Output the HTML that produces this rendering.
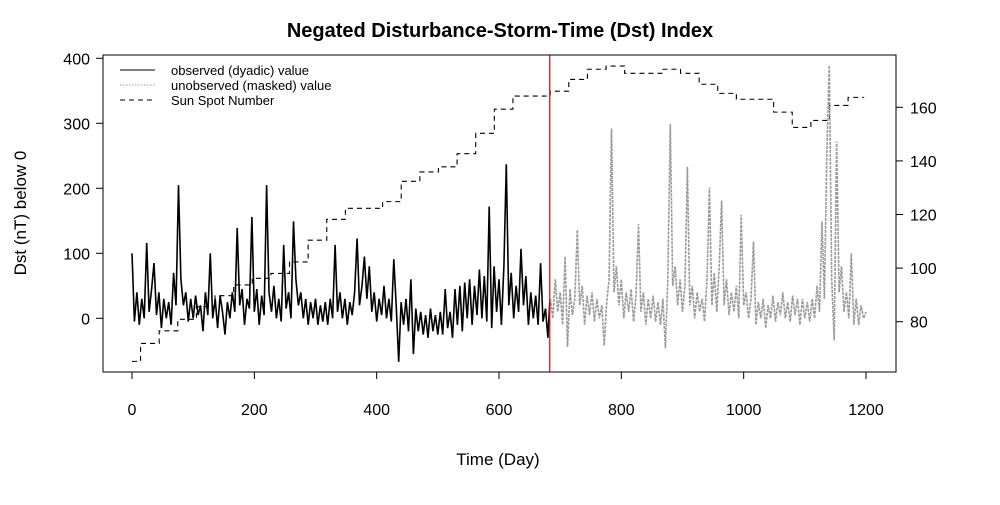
<!DOCTYPE html>
<html><head><meta charset="utf-8"><style>
body{margin:0;background:#fff}
svg text{font-family:"Liberation Sans",sans-serif}
</style></head><body>
<svg id="c" width="1000" height="500" xmlns="http://www.w3.org/2000/svg">
<rect width="1000" height="500" fill="#fff"/>
<text x="500" y="37" text-anchor="middle" font-size="20" font-weight="bold">Negated Disturbance-Storm-Time (Dst) Index</text>
<text x="498" y="465" text-anchor="middle" font-size="17">Time (Day)</text>
<text transform="translate(26,213) rotate(-90)" text-anchor="middle" font-size="17">Dst (nT) below 0</text>
<g id="axes"></g>
<g id="marks"></g>
<rect x="103" y="55" width="793" height="317" fill="none" stroke="#000"/>
<g>
<line x1="120" y1="70" x2="155" y2="70" stroke="#000"/>
<text x="171" y="75" font-size="13">observed (dyadic) value</text>
<line x1="120" y1="85" x2="155" y2="85" stroke="#999" stroke-dasharray="1.5,1.5"/>
<text x="171" y="90" font-size="13">unobserved (masked) value</text>
<line x1="120" y1="100" x2="155" y2="100" stroke="#000" stroke-dasharray="5,4"/>
<text x="171" y="105" font-size="13">Sun Spot Number</text>
</g>
</svg>
<script>
const observed = [100,-5,40,-10,30,0,116,10,45,85,5,40,-15,30,0,25,-10,70,20,205,60,20,40,-5,30,0,35,5,20,-20,40,5,100,0,30,-15,35,10,-25,25,0,40,10,139,20,45,-10,30,15,156,10,45,-10,35,5,205,40,10,50,0,30,-5,113,15,40,0,149,60,20,40,0,30,-10,25,0,30,-10,20,-5,25,-10,30,0,113,10,40,0,30,-10,25,5,40,123,20,50,95,30,80,10,40,-5,30,5,50,0,30,-5,91,20,-67,25,-10,30,-20,60,-55,15,-20,10,-25,5,-30,15,-20,5,-25,10,-25,45,-15,10,-30,45,-10,50,-20,55,0,60,-10,50,5,75,0,65,-5,172,-15,80,10,60,-10,80,237,20,70,0,50,10,107,20,65,-10,40,0,35,-10,85,-5,15,-30,25];
const masked = [30,0,60,10,40,-10,95,-44,45,5,30,136,20,50,-10,35,5,40,-5,30,0,20,-42,25,60,292,40,80,20,60,0,40,10,45,-5,35,145,10,40,-10,30,0,35,-5,25,-10,30,-46,60,299,50,80,20,60,10,50,233,20,50,0,40,10,30,-5,60,201,20,70,10,80,181,20,60,5,40,10,50,0,159,20,40,0,30,118,-10,25,0,30,-15,20,0,35,-5,25,5,40,0,25,-5,35,5,30,-10,30,0,25,-5,30,0,50,10,149,30,260,389,60,-34,272,40,80,10,40,0,100,-10,30,-10,20,0,10];
const sunspot = [65.2,71.9,76.6,80.9,85.6,89.7,93.7,96.2,98,102.3,110.4,118.2,122.3,122.3,124.8,132.4,135.9,137.8,142.7,150.3,159.3,164.2,164.2,166,170.4,174.2,175.4,172.7,172.7,174.2,172.7,168.6,165.2,163,163,158.2,152.5,155.1,160.7,163.7];
const xTicks = [0,200,400,600,800,1000,1200];
const yTicks = [0,100,200,300,400];
const y2Ticks = [80,100,120,140,160];
const splitDay = 683;
const stepDays = 4;

const X = d => 132 + d * (734 / 1200);
const Y = v => 318.3 - v * 0.65;
const Y2 = v => 321.7 - (v - 80) * 2.68;
const NS = 'http://www.w3.org/2000/svg';
const axes = document.getElementById('axes'), marks = document.getElementById('marks');
function mk(tag, attrs, parent) { const e = document.createElementNS(NS, tag); for (const k in attrs) e.setAttribute(k, attrs[k]); parent.appendChild(e); return e; }

xTicks.forEach(t => {
  const l = mk('line', {x1: X(t), x2: X(t), y1: 372, y2: 379, stroke: '#000'}, axes);
  
  
  const tx = mk('text', {x: X(t), y: 415, 'text-anchor': 'middle', 'font-size': 16}, axes);
  tx.textContent = t;
  
  
});
yTicks.forEach(t => {
  const l = mk('line', {x1: 96, x2: 103, y1: Y(t), y2: Y(t), stroke: '#000'}, axes);
  
  
  const tx = mk('text', {x: 90, y: Y(t) + 6, 'text-anchor': 'end', 'font-size': 16}, axes);
  tx.textContent = t;
  
  
});
y2Ticks.forEach(t => {
  const l = mk('line', {x1: 896, x2: 903, y1: Y2(t), y2: Y2(t), stroke: '#000'}, axes);
  
  
  const tx = mk('text', {x: 910, y: Y2(t) + 6, 'text-anchor': 'start', 'font-size': 16}, axes);
  tx.textContent = t;
  
  
});

let sp = 'M' + X(0) + ',' + Y2(sunspot[0]);
sunspot.forEach((v, i) => {
  const d0 = i === 0 ? 0 : 14 + (i - 1) * 30.44;
  const d1 = 14 + i * 30.44;
  sp += ' L' + X(d0) + ',' + Y2(v) + ' L' + X(Math.min(d1, 1197)) + ',' + Y2(v);
});
const sl = mk('path', {d: sp, fill: 'none', stroke: '#000', 'stroke-dasharray': '5,4', 'stroke-width': 1.1}, marks);



const mp = masked.map((v, i) => (i ? 'L' : 'M') + X(splitDay + 1 + i * stepDays).toFixed(1) + ',' + Y(v).toFixed(1)).join(' ');
const ml = mk('path', {d: mp, fill: 'none', stroke: '#9a9a9a', 'stroke-dasharray': '3,1', 'stroke-width': 1.6}, marks);



const op = observed.map((v, i) => (i ? 'L' : 'M') + X(Math.min(i * stepDays, splitDay)).toFixed(1) + ',' + Y(v).toFixed(1)).join(' ');
const ol = mk('path', {d: op, fill: 'none', stroke: '#000', 'stroke-width': 1.6}, marks);



const rl = mk('line', {x1: X(splitDay), x2: X(splitDay), y1: 55, y2: 372, stroke: '#d00', 'stroke-width': 1.2}, marks);


</script>
</body></html>
